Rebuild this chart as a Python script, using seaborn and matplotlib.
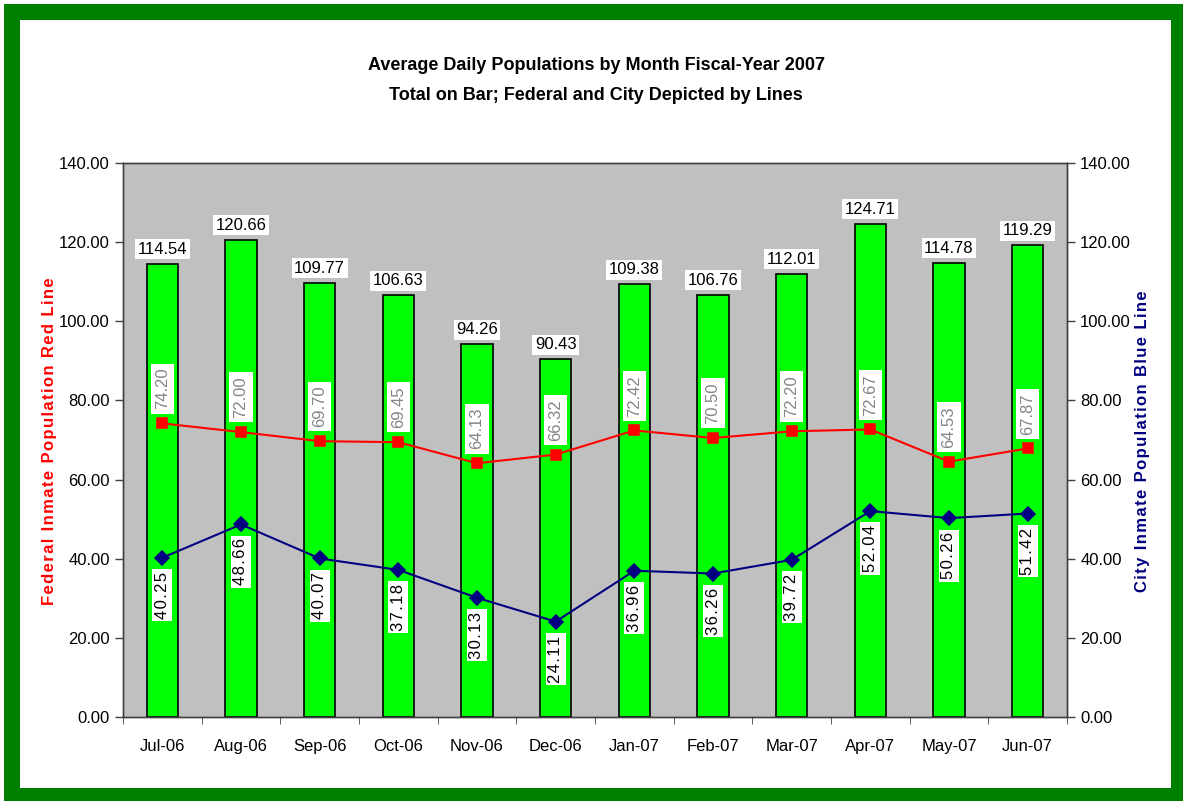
import pandas as pd
import seaborn as sns
import matplotlib.pyplot as plt
from matplotlib.patches import Rectangle
from matplotlib.ticker import MultipleLocator, FormatStrFormatter

# monthly average daily populations, FY2007
months = ['Jul-06', 'Aug-06', 'Sep-06', 'Oct-06', 'Nov-06', 'Dec-06',
          'Jan-07', 'Feb-07', 'Mar-07', 'Apr-07', 'May-07', 'Jun-07']
total_pop = [114.54, 120.66, 109.77, 106.63, 94.26, 90.43,
             109.38, 106.76, 112.01, 124.71, 114.78, 119.29]
federal_pop = [74.20, 72.00, 69.70, 69.45, 64.13, 66.32,
               72.42, 70.50, 72.20, 72.67, 64.53, 67.87]
city_pop = [40.25, 48.66, 40.07, 37.18, 30.13, 24.11,
            36.96, 36.26, 39.72, 52.04, 50.26, 51.42]

df = pd.DataFrame({'month': months, 'total': total_pop,
                   'federal': federal_pop, 'city': city_pop})

sns.set_style('ticks')
plt.rcParams['font.family'] = ['Liberation Sans', 'DejaVu Sans']
plt.rcParams['text.color'] = 'black'
plt.rcParams['xtick.labelcolor'] = 'black'
plt.rcParams['ytick.labelcolor'] = 'black'


def spaced(s):
    # mimic the letter spacing of the axis titles with hair spaces
    return '\u200a'.join(s)


W, H = 1183, 801
fig = plt.figure(figsize=(W / 100, H / 100), dpi=100)
fig.patch.set_facecolor('white')

# green frame
fig.add_artist(Rectangle((4 / W, 0), (W - 4) / W, (H - 4) / H, transform=fig.transFigure,
                         facecolor='#008000', edgecolor='none', zorder=-10))
fig.add_artist(Rectangle((20 / W, 13 / H), 1151 / W, 768 / H, transform=fig.transFigure,
                         facecolor='white', edgecolor='none', zorder=-9))

ax = fig.add_axes([123 / W, (H - 717) / H, 944 / W, 554 / H])
ax.set_facecolor('#C0C0C0')

sns.barplot(data=df, x='month', y='total', color='#00FF00', saturation=1,
            edgecolor='black', linewidth=1.2, width=0.4, ax=ax)
sns.pointplot(data=df, x='month', y='federal', color='red', markers='s',
              markersize=7, linewidth=1.5, errorbar=None, ax=ax)

ax2 = ax.twinx()
sns.pointplot(data=df, x='month', y='city', color='#000080', markers='D',
              markersize=7, linewidth=1.5, errorbar=None, ax=ax2)

for a in (ax, ax2):
    a.set_ylim(0, 140)
    a.set_xlim(-0.5, len(months) - 0.5)
    a.yaxis.set_major_locator(MultipleLocator(20))
    a.yaxis.set_major_formatter(FormatStrFormatter('%.2f'))
    a.tick_params(axis='y', direction='out', length=6, width=1, labelsize=12, colors='#404040',
                  labelcolor='black')
    a.set_xlabel('')
    a.set_ylabel('')
    for s in a.spines.values():
        s.set_visible(True)
        s.set_color('#404040')
        s.set_linewidth(1)

ax.set_xticks(range(len(months)))
ax.set_xticklabels(months)
ax.tick_params(axis='x', which='major', length=0, pad=16, labelsize=12, labelcolor='black')
ax.set_xticks([i - 0.5 for i in range(len(months) + 1)], minor=True)
ax.tick_params(axis='x', which='minor', length=5, direction='out', colors='#404040')

box = dict(boxstyle='square,pad=0.15', facecolor='white', edgecolor='none')

for i, v in enumerate(total_pop):
    ax.annotate(f'{v:.2f}', (i, v), xytext=(0, 5), textcoords='offset points',
                ha='center', va='bottom', fontsize=12, bbox=box, zorder=5)

for i, v in enumerate(federal_pop):
    ax.annotate(f'{v:.2f}', (i, v), xytext=(0, 10), textcoords='offset points',
                ha='center', va='bottom', rotation=90, fontsize=12, color='#858585',
                bbox=dict(boxstyle='square,pad=0.25', facecolor='white', edgecolor='none'),
                zorder=5)

for i, v in enumerate(city_pop):
    ax2.annotate(spaced(f'{v:.2f}'), (i, v), xytext=(0, -10), textcoords='offset points',
                 ha='center', va='top', rotation=90, fontsize=12, color='black',
                 bbox=box, zorder=5)

fig.text(596 / W, 1 - 65 / H, 'Average Daily Populations by Month Fiscal-Year 2007',
         ha='center', va='center', fontsize=13, fontweight='bold', color='black')
fig.text(596 / W, 1 - 95 / H, 'Total on Bar; Federal and City Depicted by Lines',
         ha='center', va='center', fontsize=13, fontweight='bold', color='black')

fig.text(50 / W, 1 - 441 / H, spaced('Federal Inmate Population Red Line'), rotation=90,
         ha='center', va='center', fontsize=12, fontweight='bold', color='red')
fig.text(1143 / W, 1 - 441 / H, spaced('City Inmate Population Blue Line'), rotation=90,
         ha='center', va='center', fontsize=12, fontweight='bold', color='#000080')

fig.savefig('out.png', dpi=100)
